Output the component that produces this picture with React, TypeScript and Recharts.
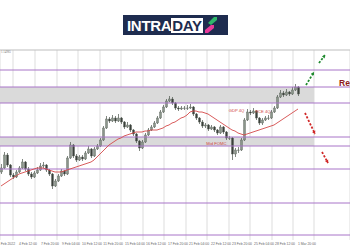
import {
  ComposedChart,
  Bar,
  Line,
  XAxis,
  YAxis,
  CartesianGrid,
  ReferenceLine,
  ReferenceArea,
  ReferenceDot,
} from "recharts";

// closing prices, one per candle (open = previous close)
const closes = [
  1.091, 1.0975, 1.0925, 1.0875, 1.0865, 1.089, 1.091, 1.094, 1.0905, 1.088,
  1.0865, 1.0885, 1.09, 1.092, 1.0925, 1.09, 1.088, 1.082, 1.0845, 1.087,
  1.0895, 1.088, 1.096, 1.1025, 1.097, 1.095, 1.0965, 1.0955, 1.0985, 1.1005,
  1.097, 1.1005, 1.102, 1.105, 1.111, 1.1155, 1.1145, 1.116, 1.1145, 1.116,
  1.114, 1.1115, 1.1125, 1.11, 1.108, 1.1045, 1.101, 1.104, 1.1075, 1.11,
  1.1115, 1.1135, 1.116, 1.119, 1.1215, 1.1245, 1.1255, 1.1235, 1.121, 1.1205,
  1.121, 1.121, 1.121, 1.1215, 1.118, 1.116, 1.114, 1.112, 1.1125, 1.1105,
  1.1115, 1.11, 1.1085, 1.1115, 1.109, 1.106, 1.106, 1.098, 1.1, 1.1,
  1.105, 1.115, 1.119, 1.1185, 1.1195, 1.116, 1.1135, 1.115, 1.116, 1.116,
  1.119, 1.121, 1.1265, 1.1285, 1.1275, 1.129, 1.128, 1.13, 1.1315, 1.128,
];
const firstOpen = 1.089;

const highs = [
  1.093, 1.099, 1.0985, 1.093, 1.0885, 1.09, 1.092, 1.0955, 1.0945, 1.0915,
  1.089, 1.0895, 1.0915, 1.0935, 1.094, 1.093, 1.0905, 1.0885, 1.0855, 1.088,
  1.0905, 1.09, 1.097, 1.104, 1.103, 1.098, 1.0975, 1.0975, 1.0995, 1.102,
  1.101, 1.1015, 1.103, 1.106, 1.112, 1.117, 1.1165, 1.1175, 1.117, 1.118,
  1.1165, 1.1145, 1.114, 1.113, 1.1105, 1.1085, 1.105, 1.105, 1.1085, 1.111,
  1.1125, 1.1145, 1.117, 1.12, 1.1225, 1.1255, 1.127, 1.1265, 1.124, 1.122,
  1.122, 1.122, 1.1225, 1.123, 1.122, 1.1185, 1.1165, 1.115, 1.1135, 1.113,
  1.1125, 1.112, 1.1105, 1.1125, 1.112, 1.1095, 1.107, 1.1065, 1.101, 1.1015,
  1.106, 1.116, 1.1205, 1.12, 1.121, 1.12, 1.1165, 1.116, 1.117, 1.1175,
  1.12, 1.122, 1.1275, 1.13, 1.1295, 1.1305, 1.1295, 1.1315, 1.133, 1.132,
];

const lows = [
  1.088, 1.0905, 1.0915, 1.0865, 1.0855, 1.086, 1.0885, 1.0905, 1.0895, 1.087,
  1.0855, 1.086, 1.088, 1.0895, 1.091, 1.089, 1.087, 1.0805, 1.0815, 1.084,
  1.0865, 1.087, 1.0875, 1.0955, 1.096, 1.094, 1.0945, 1.0945, 1.095, 1.098,
  1.096, 1.0965, 1.1, 1.1015, 1.1045, 1.1105, 1.1135, 1.114, 1.1135, 1.114,
  1.113, 1.1105, 1.111, 1.109, 1.107, 1.1035, 1.0995, 1.1005, 1.1035, 1.107,
  1.1095, 1.111, 1.113, 1.1155, 1.1185, 1.121, 1.124, 1.1225, 1.12, 1.1195,
  1.12, 1.12, 1.12, 1.1205, 1.117, 1.115, 1.113, 1.111, 1.111, 1.1095,
  1.11, 1.109, 1.1075, 1.108, 1.108, 1.105, 1.105, 1.095, 1.0965, 1.0985,
  1.0995, 1.1045, 1.1145, 1.1175, 1.118, 1.115, 1.1125, 1.1125, 1.1145, 1.115,
  1.1155, 1.1185, 1.1205, 1.126, 1.1265, 1.127, 1.127, 1.1275, 1.1295, 1.127,
];

// red moving average
const movingAvg = [
  1.082, 1.083, 1.084, 1.085, 1.086, 1.087, 1.088, 1.0885, 1.089, 1.0895,
  1.09, 1.0905, 1.091, 1.091, 1.091, 1.0905, 1.09, 1.0895, 1.089, 1.089,
  1.089, 1.0895, 1.09, 1.0905, 1.091, 1.0915, 1.092, 1.0925, 1.093, 1.0935,
  1.094, 1.095, 1.0965, 1.098, 1.0995, 1.101, 1.1025, 1.1035, 1.1045, 1.1055,
  1.106, 1.107, 1.1075, 1.108, 1.1085, 1.109, 1.109, 1.109, 1.1095, 1.1095,
  1.11, 1.11, 1.11, 1.1105, 1.111, 1.112, 1.1125, 1.1135, 1.114, 1.115,
  1.116, 1.1165, 1.1175, 1.119, 1.1195, 1.1195, 1.119, 1.119, 1.1185, 1.118,
  1.117, 1.116, 1.115, 1.114, 1.113, 1.112, 1.111, 1.11, 1.1095, 1.1085,
  1.108, 1.1075, 1.108, 1.1085, 1.109, 1.1095, 1.11, 1.1105, 1.111, 1.1115,
  1.112, 1.1125, 1.1135, 1.1145, 1.1155, 1.1165, 1.1175, 1.1185, 1.1195, 1.1205,
];

// horizontal levels
const levels = [1.14, 1.1315, 1.1235, 1.1065, 1.102, 1.0905, 1.0735, 1.0575];
const zones = [
  [1.1235, 1.1315],
  [1.102, 1.1065],
];

// time grid
const gridTicks = [4, 11.33, 18.67, 25.67, 33, 40, 47.33, 54.33, 61.67, 68.67, 76, 83, 90.33, 97.33, 104.33];
const tickLabels = [
  "3 Feb 2022", "4 Feb 12:00", "7 Feb 20:00", "9 Feb 04:00", "10 Feb 12:00",
  "11 Feb 20:00", "15 Feb 04:00", "16 Feb 12:00", "17 Feb 20:00", "21 Feb 04:00",
  "22 Feb 12:00", "23 Feb 20:00", "25 Feb 04:00", "28 Feb 12:00", "1 Mar 20:00",
];

const events = [
  { label: "GDP 4Q", i: 78.5, price: 1.1195 },
  { label: "PCE 4Q", i: 87.3, price: 1.119 },
  { label: "Mid FOMC", i: 71.8, price: 1.103 },
];

const upArrows = [
  [101.67, 1.1325, 104.33, 1.139],
  [106, 1.1435, 108, 1.1475],
];
const downArrows = [
  [101.33, 1.1185, 104.67, 1.108],
  [107, 1.099, 109, 1.0935],
];

const data = closes.map((c, i) => ({
  i,
  o: i === 0 ? firstOpen : closes[i - 1],
  c,
  h: highs[i],
  l: lows[i],
  range: [lows[i], highs[i]],
  ma: movingAvg[i],
}));

const Candle = (props: any) => {
  const { x, y, width, height, payload } = props;
  if (!payload) return null;
  const { o, c, h, l } = payload;
  const span = h - l || 1e-9;
  const py = (v: number) => y + ((h - v) / span) * height;
  const cx = x + width / 2;
  const top = py(Math.max(o, c));
  const bot = py(Math.min(o, c));
  const up = c >= o;
  return (
    <g>
      <line x1={cx} x2={cx} y1={y} y2={y + height} stroke="#4c544c" strokeWidth={0.7} />
      <rect
        x={cx - 1}
        y={top}
        width={2}
        height={Math.max(bot - top, 0.6)}
        fill={up ? "#8a958a" : "#3a403a"}
        stroke="#4c544c"
        strokeWidth={0.35}
      />
    </g>
  );
};

const makeArrow = (color: string) => (props: any) => {
  const { x1, y1, x2, y2 } = props;
  const a = Math.atan2(y2 - y1, x2 - x1);
  const len = 3.4;
  const p1 = [x2 - len * Math.cos(a - 0.55), y2 - len * Math.sin(a - 0.55)];
  const p2 = [x2 - len * Math.cos(a + 0.55), y2 - len * Math.sin(a + 0.55)];
  return (
    <g>
      <line x1={x1} y1={y1} x2={x2} y2={y2} stroke={color} strokeWidth={1.8} strokeDasharray="2.2 1.6" />
      <polygon points={`${x2},${y2} ${p1[0]},${p1[1]} ${p2[0]},${p2[1]}`} fill={color} />
    </g>
  );
};

const AxisTick = (props: any) => {
  const { x, y, index } = props;
  return (
    <text x={x + 2} y={y + 5} fontSize={3.4} fill="#666" textAnchor="end" fontFamily="Arial, sans-serif">
      {tickLabels[index]}
    </text>
  );
};

function Logo() {
  return (
    <div
      style={{
        position: "absolute",
        left: 123,
        top: 15,
        width: 105,
        height: 20,
        background: "#1e2c4f",
        display: "flex",
        alignItems: "center",
        fontFamily: '"Liberation Sans", Arial, sans-serif',
        fontWeight: 700,
        fontSize: 15,
        letterSpacing: -0.3,
      }}
    >
      <span style={{ color: "#fff", marginLeft: 4 }}>INTRA</span>
      <span style={{ background: "#fff", color: "#1e2c4f", padding: "0 1px", lineHeight: "15px" }}>DAY</span>
      <svg width={14} height={18} style={{ marginLeft: 1 }}>
        <polygon points="4,7 10,1 13,1 13,4 7,9" fill="#2fb86a" />
        <polygon points="1,14 7,9 10,9 10,12 4,17 1,17" fill="#e8399a" />
      </svg>
    </div>
  );
}

export default function App() {
  return (
    <div style={{ position: "absolute", left: 0, top: 0, width: 350, height: 250, background: "#fff", overflow: "hidden" }}>
      <Logo />
      <ComposedChart width={350} height={250} data={data} margin={{ top: 50, right: 0, bottom: 0, left: 0 }}>
        <CartesianGrid horizontal={false} stroke="#d4d4d4" strokeWidth={0.8} />
        <XAxis
          dataKey="i"
          type="number"
          domain={[-1 / 3, 116.33]}
          ticks={gridTicks}
          interval={0}
          height={10}
          tickSize={0}
          tickMargin={0}
          axisLine={false}
          tickLine={false}
          tick={<AxisTick />}
          allowDataOverflow
        />
        <YAxis hide domain={[1.055, 1.15]} allowDataOverflow />
        {zones.map(([a, b], k) => (
          <ReferenceArea key={`z${k}`} x1={-1 / 3} x2={104.33} y1={a} y2={b} fill="#dadada" fillOpacity={1} stroke="none" />
        ))}
        <ReferenceLine
          y={1.15}
          stroke="#bdbdbd"
          label={{ value: "1.14985", position: "insideTopLeft", fontSize: 3, fill: "#777", offset: 1 }}
        />
        {levels.map((v) => (
          <ReferenceLine key={v} y={v} stroke="#a874c8" strokeWidth={1} />
        ))}
        <Line dataKey="ma" stroke="#d44a4a" strokeWidth={0.9} dot={false} isAnimationActive={false} />
        <Bar dataKey="range" barSize={2} shape={<Candle />} isAnimationActive={false} />
        {events.map((e) => (
          <ReferenceDot
            key={e.label}
            x={e.i}
            y={e.price}
            r={0}
            stroke="none"
            label={{ value: e.label, position: "center", fontSize: 4.2, fill: "#d0463c", fontFamily: "Arial, sans-serif" }}
          />
        ))}
        {upArrows.map(([a, b, c, d], k) => (
          <ReferenceLine key={`u${k}`} segment={[{ x: a, y: b }, { x: c, y: d }]} shape={makeArrow("#1f8a2e")} />
        ))}
        {downArrows.map(([a, b, c, d], k) => (
          <ReferenceLine key={`d${k}`} segment={[{ x: a, y: b }, { x: c, y: d }]} shape={makeArrow("#d02626")} />
        ))}
        <ReferenceDot
          x={111}
          y={1.1335}
          r={0}
          stroke="none"
          label={{
            value: "Resistance",
            position: "right",
            offset: 5,
            fontSize: 8.5,
            fontWeight: 700,
            fill: "#8e1b1b",
            fontFamily: "Arial, sans-serif",
          }}
        />
      </ComposedChart>
    </div>
  );
}
